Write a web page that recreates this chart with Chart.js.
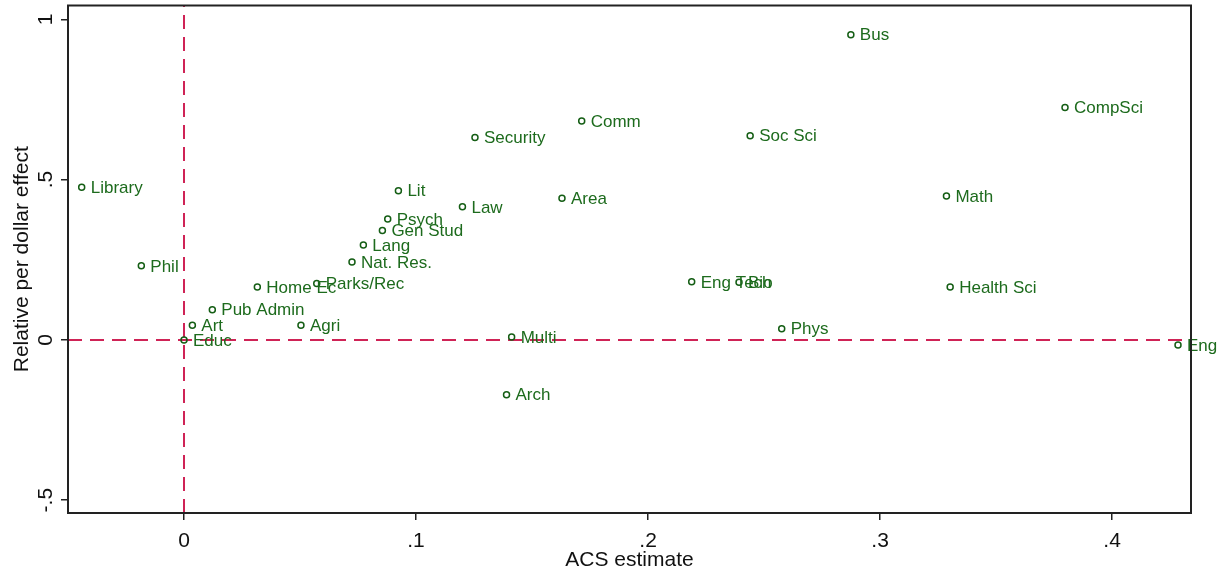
<!DOCTYPE html>
<html>
<head>
<meta charset="utf-8">
<title>ACS estimate vs relative per dollar effect</title>
<script src="https://cdn.jsdelivr.net/npm/chart.js@4.4.1/dist/chart.umd.min.js"></script>
<style>
  html, body { margin: 0; padding: 0; background: #fff; }
  #wrap { width: 1225px; height: 575px; position: relative; }
</style>
</head>
<body>
<div id="wrap"><canvas id="majorChart"></canvas></div>
<script>
// field of study, ACS estimate (x) and relative per dollar effect (y)
const majors = ["Library", "Phil", "Educ", "Art", "Pub Admin", "Home Ec", "Agri", "Parks/Rec",
  "Nat. Res.", "Lang", "Gen Stud", "Psych", "Lit", "Law", "Security", "Arch", "Multi", "Area",
  "Comm", "Eng Tech", "Bio", "Soc Sci", "Phys", "Bus", "Math", "Health Sci", "CompSci", "Eng"];
const acsEstimate = [-0.0441, -0.0184, 0, 0.0036, 0.0122, 0.0316, 0.0504, 0.0572,
  0.0724, 0.0773, 0.0855, 0.0878, 0.0924, 0.1200, 0.1254, 0.1390, 0.1412, 0.1629,
  0.1714, 0.2188, 0.2392, 0.2440, 0.2576, 0.2874, 0.3286, 0.3302, 0.3797, 0.4284];
const perDollar = [0.476, 0.231, 0, 0.046, 0.094, 0.165, 0.046, 0.176,
  0.243, 0.296, 0.341, 0.377, 0.465, 0.415, 0.631, -0.171, 0.009, 0.442,
  0.683, 0.181, 0.180, 0.637, 0.035, 0.952, 0.449, 0.165, 0.725, -0.016];

const xTicks = [0, 0.1, 0.2, 0.3, 0.4];
const xTickLabels = ["0", ".1", ".2", ".3", ".4"];
const yTicks = [-0.5, 0, 0.5, 1];
const yTickLabels = ["-.5", "0", ".5", "1"];

const xRange = [-0.050, 0.434];
const yRange = [-0.540, 1.043];

const FONT = "'Liberation Sans', Arial, sans-serif";
const GREEN = "#1d6b1d";
const REF = "#cf2356";

// text next to each marker
const pointLabels = {
  id: "pointLabels",
  afterDatasetsDraw(chart) {
    const ctx = chart.ctx;
    const xs = chart.scales.x, ys = chart.scales.y;
    ctx.save();
    ctx.font = "17px " + FONT;
    ctx.fillStyle = GREEN;
    ctx.textAlign = "left";
    ctx.textBaseline = "middle";
    majors.forEach((name, i) => {
      const px = xs.getPixelForValue(acsEstimate[i]);
      const py = ys.getPixelForValue(perDollar[i]);
      ctx.fillText(name, px + 9, py + 1);
    });
    ctx.restore();
  }
};

// plot frame and rotated y tick labels
const frame = {
  id: "frame",
  afterDraw(chart) {
    const ctx = chart.ctx;
    const a = chart.chartArea;
    const ys = chart.scales.y;
    ctx.save();
    ctx.strokeStyle = "#222";
    ctx.lineWidth = 2;
    ctx.strokeRect(a.left, a.top, a.right - a.left, a.bottom - a.top);
    ctx.font = "21px " + FONT;
    ctx.fillStyle = "#111";
    ctx.textAlign = "center";
    ctx.textBaseline = "middle";
    yTicks.forEach((v, i) => {
      const py = ys.getPixelForValue(v);
      ctx.save();
      ctx.translate(46, py);
      ctx.rotate(-Math.PI / 2);
      ctx.fillText(yTickLabels[i], 0, 0);
      ctx.restore();
    });
    ctx.restore();
  }
};

const ctx = document.getElementById("majorChart").getContext("2d");

new Chart(ctx, {
  type: "scatter",
  data: {
    datasets: [
      {
        label: "majors",
        data: majors.map((m, i) => ({ x: acsEstimate[i], y: perDollar[i] })),
        pointStyle: "circle",
        pointRadius: 3,
        borderWidth: 1.5,
        borderColor: "#155e15",
        backgroundColor: "rgba(255,255,255,0)",
        order: 1
      },
      {
        type: "line",
        label: "x = 0",
        data: [{ x: 0, y: yRange[0] }, { x: 0, y: yRange[1] }],
        borderColor: REF,
        borderWidth: 2,
        borderDash: [14, 8],
        pointRadius: 0,
        order: 2
      },
      {
        type: "line",
        label: "y = 0",
        data: [{ x: xRange[0], y: 0 }, { x: xRange[1], y: 0 }],
        borderColor: REF,
        borderWidth: 2,
        borderDash: [14, 8],
        pointRadius: 0,
        order: 2
      }
    ]
  },
  options: {
    responsive: true,
    maintainAspectRatio: false,
    animation: false,
    layout: { padding: { top: 3, right: 34, left: 0, bottom: 0 } },
    plugins: {
      legend: { display: false },
      tooltip: { enabled: false }
    },
    scales: {
      x: {
        type: "linear",
        min: xRange[0],
        max: xRange[1],
        afterBuildTicks: scale => { scale.ticks = xTicks.map(v => ({ value: v })); },
        afterFit: scale => { scale.height = 62; },
        border: { display: false },
        grid: { drawOnChartArea: false, drawTicks: true, tickLength: 7, color: "#222", lineWidth: 1.5 },
        ticks: {
          padding: 9,
          maxRotation: 0,
          color: "#111",
          font: { family: FONT, size: 21 },
          callback: (v) => {
            const i = xTicks.indexOf(v);
            return i >= 0 ? xTickLabels[i] : "";
          }
        },
        title: {
          display: true,
          text: "ACS estimate",
          color: "#111",
          font: { family: FONT, size: 21 },
          padding: { top: 0, bottom: 2 }
        }
      },
      y: {
        type: "linear",
        min: yRange[0],
        max: yRange[1],
        afterBuildTicks: scale => { scale.ticks = yTicks.map(v => ({ value: v })); },
        afterFit: scale => { scale.width = 68; },
        border: { display: false },
        grid: { drawOnChartArea: false, drawTicks: true, tickLength: 7, color: "#222", lineWidth: 1.5 },
        ticks: { display: false },
        title: {
          display: true,
          text: "Relative per dollar effect",
          color: "#111",
          font: { family: FONT, size: 21 },
          padding: { top: 10, bottom: 0 }
        }
      }
    }
  },
  plugins: [pointLabels, frame]
});
</script>
</body>
</html>
